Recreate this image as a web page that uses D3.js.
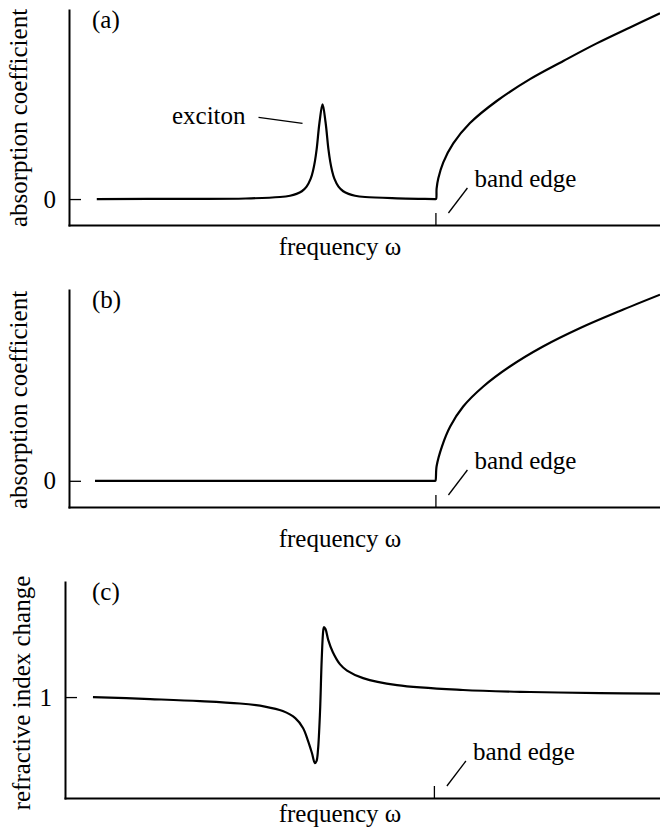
<!DOCTYPE html>
<html>
<head>
<meta charset="utf-8">
<script src="https://cdn.jsdelivr.net/npm/d3@7"></script>
<style>
  body { margin: 0; background: #fff; }
</style>
</head>
<body>
<svg id="fig" width="660" height="833" font-family="'Liberation Serif', 'Times New Roman', 'DejaVu Serif', serif"></svg>
<script>
// Frequency in arbitrary units (0..10 along each axis).
const bandEdge = 6.2;

// (a) absorption: flat background, sharp exciton line, square-root continuum
const freqA = [0.47, 2.0, 2.99, 3.57, 3.74, 3.85, 3.94, 4.02, 4.09, 4.13, 4.16, 4.19, 4.24, 4.29,
               4.34, 4.39, 4.42, 4.45, 4.49, 4.56, 4.64, 4.73, 4.84, 5.01, 5.55, 6.0, 6.19, 6.21,
               6.22, 6.249, 6.333, 6.502, 6.785, 7.237, 7.80, 8.364, 8.929, 9.492, 10.0];
const absA  = [0, 0.001, 0.003, 0.011, 0.018, 0.028, 0.042, 0.067, 0.110, 0.154, 0.202, 0.268, 0.417, 0.511,
               0.417, 0.268, 0.202, 0.154, 0.110, 0.067, 0.042, 0.028, 0.018, 0.011, 0.004, 0.001, 0, 0,
               0.056, 0.112, 0.198, 0.300, 0.410, 0.529, 0.647, 0.745, 0.840, 0.926, 1.002];

// (b) absorption without the exciton
const freqB = [0.44, 2.0, 4.0, 6.0, 6.19, 6.2, 6.22, 6.31, 6.45, 6.67, 7.01, 7.46, 8.02, 8.65, 9.32, 10.0];
const absB  = [0, 0, 0, 0, 0, 0, 0.078, 0.183, 0.29, 0.397, 0.504, 0.611, 0.718, 0.817, 0.908, 0.995];

// (c) refractive index around the exciton resonance
const freqC  = [0.47, 1.43, 2.27, 2.94, 3.36, 3.66, 3.87, 4.00, 4.08, 4.15, 4.20, 4.227, 4.252, 4.286,
                4.314, 4.341, 4.353, 4.378, 4.425, 4.50, 4.62, 4.74, 5.01, 5.58, 6.69, 7.82, 8.99, 10.0];
const indexC = [1.000, 0.990, 0.980, 0.968, 0.953, 0.931, 0.896, 0.847, 0.787, 0.723, 0.673, 0.683, 0.738, 0.926,
                1.183, 1.332, 1.347, 1.337, 1.282, 1.223, 1.163, 1.131, 1.094, 1.059, 1.035, 1.025, 1.020, 1.017];

const yTicksAbs = [0];
const yTicksIndex = [1];
const panelTags = ["(a)", "(b)", "(c)"];
const yTitles = ["absorption coefficient", "absorption coefficient", "refractive index change"];
const xTitle = "frequency \u03c9";
const excitonText = "exciton";
const edgeText = "band edge";

const FONT = "'Liberation Serif', 'Times New Roman', 'DejaVu Serif', serif";

const panels = [
  { tag: panelTags[0], title: yTitles[0], freq: freqA, vals: absA, ticks: yTicksAbs,
    left: 69, top: 10, bottom: 225, yDomain: [-0.14, 1.02], titleX: 27, titleY: 118, xTitleY: 255, exciton: true },
  { tag: panelTags[1], title: yTitles[1], freq: freqB, vals: absB, ticks: yTicksAbs,
    left: 69, top: 290, bottom: 507, yDomain: [-0.14, 1.02], titleX: 27, titleY: 400, xTitleY: 547, exciton: false },
  { tag: panelTags[2], title: yTitles[2], freq: freqC, vals: indexC, ticks: yTicksIndex,
    left: 65, top: 582, bottom: 798, yDomain: [0.5, 1.57], titleX: 30, titleY: 693, xTitleY: 822, exciton: false }
];

const svg = d3.select("#fig");
const right = 660;

function label(sel) {
  return sel.attr("font-family", FONT).attr("font-size", 25).attr("fill", "#000");
}

panels.forEach(p => {
  const x = d3.scaleLinear().domain([0, 10]).range([p.left, right]);
  const y = d3.scaleLinear().domain(p.yDomain).range([p.bottom, p.top]);
  const g = svg.append("g");

  // x axis with the band-edge tick pointing up
  const xa = g.append("g").attr("transform", `translate(0,${p.bottom})`)
    .call(d3.axisBottom(x).tickValues([bandEdge]).tickSizeInner(-12).tickSizeOuter(0).tickFormat(""));
  // y axis with an inward tick at the reference level
  const ya = g.append("g").attr("transform", `translate(${p.left},0)`)
    .call(d3.axisLeft(y).tickValues(p.ticks).tickSizeInner(-12).tickSizeOuter(0).tickPadding(13)
      .tickFormat(d3.format("d")));
  [xa, ya].forEach(a => {
    a.attr("font-family", FONT).attr("font-size", 25);
    a.select(".domain").attr("stroke", "#000").attr("stroke-width", 2).attr("stroke-linecap", "square");
    a.selectAll(".tick line").attr("stroke", "#000").attr("stroke-width", 1.3);
  });
  label(ya.selectAll(".tick text"));

  // curve
  const pts = p.freq.map((f, i) => [f, p.vals[i]]);
  g.append("path")
    .datum(pts)
    .attr("fill", "none").attr("stroke", "#000").attr("stroke-width", 2.2)
    .attr("stroke-linejoin", "round")
    .attr("d", d3.line().x(d => x(d[0])).y(d => y(d[1])).curve(d3.curveCatmullRom.alpha(0.5)));

  // panel tag
  label(g.append("text").attr("x", 92).attr("y", p.top + 18)).text(p.tag);

  // axis titles
  label(g.append("text").attr("transform", `translate(${p.titleX},${p.titleY}) rotate(-90)`)
    .attr("text-anchor", "middle")).text(p.title);
  label(g.append("text").attr("x", 340).attr("y", p.xTitleY)
    .attr("text-anchor", "middle")).text(xTitle);

  // band-edge annotation
  const bx = x(bandEdge), ay = p.bottom;
  g.append("line").attr("x1", bx + 13).attr("y1", ay - 12).attr("x2", bx + 32).attr("y2", ay - 37)
    .attr("stroke", "#000").attr("stroke-width", 1.3);
  label(g.append("text").attr("x", bx + 39).attr("y", ay - 38)).text(edgeText);

  // exciton annotation
  if (p.exciton) {
    const i = p.vals.indexOf(d3.max(p.vals.filter((v, k) => p.freq[k] < bandEdge)));
    const px = x(p.freq[i]), py = y(p.vals[i]);
    g.append("line").attr("x1", px - 64).attr("y1", py + 13).attr("x2", px - 20).attr("y2", py + 19)
      .attr("stroke", "#000").attr("stroke-width", 1.3);
    label(g.append("text").attr("x", px - 77).attr("y", py + 20).attr("text-anchor", "end")).text(excitonText);
  }
});
</script>
</body>
</html>
